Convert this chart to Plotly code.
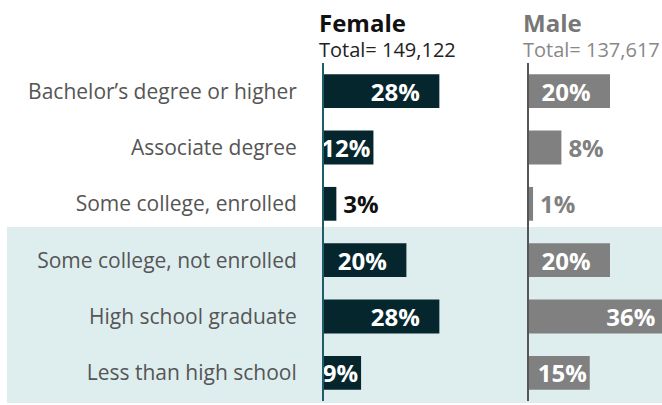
import plotly.graph_objects as go

categories = ["Bachelor’s degree or higher", "Associate degree", "Some college, enrolled",
              "Some college, not enrolled", "High school graduate", "Less than high school"]
female = [28, 12, 3, 20, 28, 9]
male = [20, 8, 1, 20, 36, 15]
female_total = "149,122"
male_total = "137,617"
female_pos = ["inside", "inside", "outside", "inside", "inside", "inside"]
male_pos = ["inside", "outside", "outside", "inside", "inside", "inside"]
female_pad = [True, False, False, True, True, False]
male_pad = [True, False, False, True, True, False]

W, H = 662, 405
PAD = "\u00a0\u00a0\u2009"


def px(X):
    return X / W


def py(Y):
    return 1 - Y / H


def labels(vals, pads, pos):
    out = []
    for v, p, ps in zip(vals, pads, pos):
        t = f"{v}%"
        if p:
            t += PAD
        if ps == "outside":
            t = "\u2009" + t
        out.append(t)
    return out


F_COL = "#06262e"
M_COL = "#808080"
FONT = "Open Sans"
PCT = 24

fig = go.Figure()
fig.add_trace(go.Bar(
    y=categories, x=female, orientation="h", xaxis="x", yaxis="y",
    marker=dict(color=F_COL, line=dict(width=0)), width=0.6,
    text=labels(female, female_pad, female_pos), textposition=female_pos,
    insidetextanchor="end", constraintext="none", textangle=0, cliponaxis=True,
    insidetextfont=dict(family=FONT, size=PCT, color="white", weight="bold"),
    outsidetextfont=dict(family=FONT, size=PCT, color="#111111", weight="bold"),
    hoverinfo="skip", showlegend=False,
))
fig.add_trace(go.Bar(
    y=categories, x=male, orientation="h", xaxis="x2", yaxis="y2",
    marker=dict(color=M_COL, line=dict(width=0)), width=0.6,
    text=labels(male, male_pad, male_pos), textposition=male_pos,
    insidetextanchor="end", constraintext="none", textangle=0, cliponaxis=True,
    insidetextfont=dict(family=FONT, size=PCT, color="white", weight="bold"),
    outsidetextfont=dict(family=FONT, size=PCT, color=M_COL, weight="bold"),
    hoverinfo="skip", showlegend=False,
))

fx0 = px(324)
mx0 = px(529)
ytop = py(63)
ybot = py(401)

fig.update_layout(
    width=W, height=H, margin=dict(l=0, r=0, t=0, b=0),
    paper_bgcolor="white", plot_bgcolor="rgba(0,0,0,0)",
    font=dict(family=FONT),
    xaxis=dict(domain=[fx0, mx0], range=[0, 205 / 4.12], visible=False, fixedrange=True),
    xaxis2=dict(domain=[mx0, 1], range=[0, 133 / 4.05], visible=False, fixedrange=True),
    yaxis=dict(domain=[ybot, ytop], anchor="x", autorange="reversed", categoryorder="array",
               categoryarray=categories, showline=True, linecolor="#1f5d6b", linewidth=2,
               showgrid=False, zeroline=False, ticks="outside", ticklen=21,
               tickcolor="rgba(0,0,0,0)", tickfont=dict(family=FONT, size=21, color="#555555")),
    yaxis2=dict(domain=[ybot, ytop], anchor="x2", matches="y", showline=True,
                linecolor="#555555", linewidth=2, showgrid=False, zeroline=False,
                showticklabels=False, ticks=""),
    shapes=[dict(type="rect", xref="paper", yref="paper", x0=px(7), x1=1,
                 y0=py(403), y1=py(227), fillcolor="#deeeef",
                 line=dict(width=0), layer="below")],
    annotations=[
        dict(text="<b>Female</b>", x=px(317), y=py(22), xref="paper", yref="paper",
             xanchor="left", yanchor="middle", showarrow=False,
             font=dict(family=FONT, size=24, color="#111111")),
        dict(text=f"Total= {female_total}", x=px(317), y=py(49), xref="paper", yref="paper",
             xanchor="left", yanchor="middle", showarrow=False,
             font=dict(family=FONT, size=20, color="#222222")),
        dict(text="<b>Male</b>", x=px(521), y=py(22), xref="paper", yref="paper",
             xanchor="left", yanchor="middle", showarrow=False,
             font=dict(family=FONT, size=24, color="#777777")),
        dict(text=f"Total= {male_total}", x=px(521), y=py(49), xref="paper", yref="paper",
             xanchor="left", yanchor="middle", showarrow=False,
             font=dict(family=FONT, size=20, color="#888888")),
    ],
)

fig.write_html(
    "out.html",
    config=dict(displayModeBar=False),
    post_script="document.documentElement.style.overflow='hidden';"
                "document.body.style.margin='0';document.body.style.overflow='hidden';",
)
